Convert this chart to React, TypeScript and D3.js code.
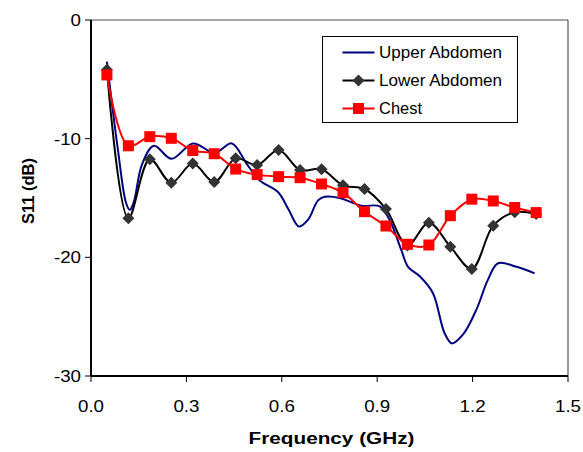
import React from 'react';
import * as d3 from 'd3';

const FREQ = [0.05, 0.1175, 0.185, 0.2525, 0.32, 0.3875, 0.455, 0.5225, 0.59, 0.6575, 0.725,
  0.7925, 0.86, 0.9275, 0.995, 1.0625, 1.13, 1.1975, 1.265, 1.3325, 1.4];

const lowerAbdomen = [-4.2, -16.7, -11.74, -13.71, -12.1, -13.65, -11.66, -12.22, -10.95, -12.64, -12.58,
  -13.93, -14.24, -15.93, -19.0, -17.08, -19.1, -20.98, -17.33, -16.2, -16.35];

const chest = [-4.63, -10.6, -9.83, -9.97, -11.0, -11.27, -12.56, -13.03, -13.2, -13.29, -13.82,
  -14.55, -16.15, -17.36, -18.9, -18.96, -16.49, -15.1, -15.25, -15.8, -16.23];

// upper abdomen is a dense measured trace, no markers
const upperFreq = [0.05, 0.085, 0.11, 0.122, 0.135, 0.16, 0.198, 0.253, 0.321, 0.389, 0.443, 0.489, 0.53,
  0.588, 0.62, 0.654, 0.682, 0.714, 0.735, 0.782, 0.85, 0.908, 0.939, 0.976, 0.997, 1.034, 1.075,
  1.112, 1.135, 1.17, 1.212, 1.248, 1.28, 1.338, 1.395];
const upperAbdomen = [-3.5, -11, -15.4, -16.0, -15.3, -12.2, -10.6, -11.7, -10.4, -11.2, -10.4, -12.1, -13.5,
  -14.5, -15.9, -17.4, -16.85, -15.2, -14.9, -15.0, -15.65, -15.7, -16.85, -19.4, -20.8, -21.6, -23.0,
  -26.4, -27.25, -26.5, -24.4, -21.9, -20.5, -20.8, -21.35];

const xTicks = [0, 0.3, 0.6, 0.9, 1.2, 1.5];
const yTicks = [0, -10, -20, -30];

const FONT = '"Liberation Sans", Arial, sans-serif';
const MARGIN = { top: 20, right: 15, bottom: 76, left: 91 };

// the original chart was stretched sideways, so its text is wider than normal
const Wide = ({ x, y, k, children, ...rest }: any) => (
  <text transform={`translate(${x},${y}) scale(${k},1)`} {...rest}>{children}</text>
);

export default function App() {
  const width = 583;
  const height = 452;
  const boundsWidth = width - MARGIN.left - MARGIN.right;
  const boundsHeight = height - MARGIN.top - MARGIN.bottom;

  const xScale = d3.scaleLinear().domain([0, 1.5]).range([0, boundsWidth]);
  const yScale = d3.scaleLinear().domain([-30, 0]).range([boundsHeight, 0]);

  const line = d3.line<[number, number]>()
    .x((d) => xScale(d[0]))
    .y((d) => yScale(d[1]))
    .curve(d3.curveCatmullRom.alpha(0.5));

  const upperPath = line(upperFreq.map((f, i) => [f, upperAbdomen[i]]));
  const lowerPath = line(FREQ.map((f, i) => [f, lowerAbdomen[i]]));
  const chestPath = line(FREQ.map((f, i) => [f, chest[i]]));

  const diamond = (cx: number, cy: number, r: number) =>
    `M${cx},${cy - r}L${cx + r},${cy}L${cx},${cy + r}L${cx - r},${cy}Z`;

  const legendItems = [
    { label: 'Upper Abdomen', color: '#000080', marker: 'none', len: 123 },
    { label: 'Lower Abdomen', color: '#000000', marker: 'diamond', len: 123 },
    { label: 'Chest', color: '#FF0000', marker: 'square', len: 43 },
  ];

  return (
    <svg width={width} height={height} style={{ position: 'absolute', left: 0, top: 0, background: '#fff' }}>
      <g transform={`translate(${MARGIN.left},${MARGIN.top})`} fontFamily={FONT}>
        {/* plot frame */}
        <line x1={0} x2={boundsWidth} y1={0} y2={0} stroke="#888" strokeWidth={1.5} />
        <line x1={boundsWidth} x2={boundsWidth} y1={0} y2={boundsHeight} stroke="#333" strokeWidth={1} />

        {/* series */}
        <path d={upperPath ?? ''} fill="none" stroke="#000080" strokeWidth={2} />
        <path d={lowerPath ?? ''} fill="none" stroke="#000" strokeWidth={2} />
        {FREQ.map((f, i) => (
          <path key={`d${i}`} d={diamond(xScale(f), yScale(lowerAbdomen[i]), 6)} fill="#333" />
        ))}
        <path d={chestPath ?? ''} fill="none" stroke="#FF0000" strokeWidth={2} />
        {FREQ.map((f, i) => (
          <rect key={`s${i}`} x={xScale(f) - 5.5} y={yScale(chest[i]) - 5.5} width={11} height={11} fill="#FF0000" />
        ))}

        {/* axes */}
        <line x1={0} x2={0} y1={0} y2={boundsHeight} stroke="#000" strokeWidth={2} />
        <line x1={0} x2={boundsWidth} y1={boundsHeight} y2={boundsHeight} stroke="#000" strokeWidth={2} />
        {yTicks.map((t) => (
          <g key={`y${t}`}>
            <line x1={-6} x2={0} y1={yScale(t)} y2={yScale(t)} stroke="#000" strokeWidth={1} />
            <Wide x={-10} y={yScale(t)} k={1.15} dy="0.36em" textAnchor="end" fontSize={16.3}>{t}</Wide>
          </g>
        ))}
        {xTicks.map((t) => (
          <g key={`x${t}`}>
            <line x1={xScale(t)} x2={xScale(t)} y1={boundsHeight} y2={boundsHeight + 6} stroke="#000" strokeWidth={1} />
            <Wide x={xScale(t)} y={boundsHeight + 36} k={1.15} textAnchor="middle" fontSize={16.3}>{t.toFixed(1)}</Wide>
          </g>
        ))}
        <Wide x={boundsWidth / 2 + 2} y={boundsHeight + 68} k={1.22} textAnchor="middle" fontSize={17} fontWeight="bold">
          Frequency (GHz)
        </Wide>
        <text transform={`translate(${28 - MARGIN.left},${171}) rotate(-90)`} textAnchor="middle" dy="0.36em"
          fontSize={16.5} fontWeight="bold">
          S11 (dB)
        </text>

        {/* legend */}
        <g transform={`translate(${322.5 - MARGIN.left},${36.5 - MARGIN.top})`}>
          <rect x={0} y={0} width={195} height={86} fill="#fff" stroke="#000" strokeWidth={1} />
          {legendItems.map((item, i) => {
            const cy = 16 + i * 28;
            return (
              <g key={item.label}>
                <line x1={20} x2={52} y1={cy} y2={cy} stroke={item.color} strokeWidth={2} />
                {item.marker === 'diamond' && <path d={diamond(36, cy, 6)} fill="#333" />}
                {item.marker === 'square' && <rect x={30.5} y={cy - 5.5} width={11} height={11} fill="#FF0000" />}
                <text x={56.5} y={cy} dy="0.36em" fontSize={16.5} textLength={item.len} lengthAdjust="spacingAndGlyphs">
                  {item.label}
                </text>
              </g>
            );
          })}
        </g>
      </g>
    </svg>
  );
}
